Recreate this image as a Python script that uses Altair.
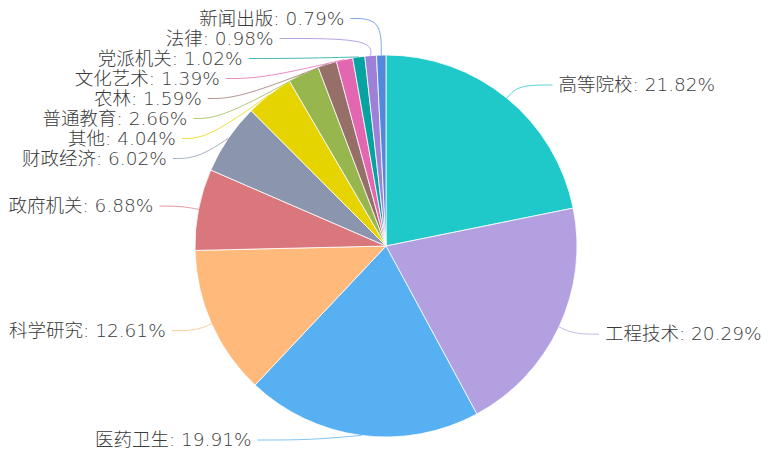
import math
import altair as alt
import pandas as pd

categories = ["高等院校", "工程技术", "医药卫生", "科学研究", "政府机关", "财政经济",
              "其他", "普通教育", "农林", "文化艺术", "党派机关", "法律", "新闻出版"]
values = [21.82, 20.29, 19.91, 12.61, 6.88, 6.02, 4.04, 2.66, 1.59, 1.39, 1.02, 0.98, 0.79]
colors = ["#1fc8c9", "#b3a0e0", "#56b0f2", "#ffb97b", "#d9777c", "#8b96ae",
          "#e5d400", "#98b64e", "#956f68", "#e266b0", "#06a3a0", "#9f80d8", "#5389db"]

# layout (view coordinates)
W, H = 756, 443
CX, CY, R = 378, 238, 191
R1 = 208          # end of first leader segment
RT = 236          # text anchor radius
GAP = 6
LINE_H = 20.0
TOP, BOTTOM = 10.5, 432

total = sum(values)
mids, cum = [], 0.0
for v in values:
    mids.append(2 * math.pi * (cum + v / 2) / total)
    cum += v

side = [1 if math.sin(a) >= 0 else -1 for a in mids]
ys = [CY - R1 * math.cos(a) for a in mids]

# label overlap avoidance per side (isotonic regression with fixed spacing)
for s in (1, -1):
    idx = sorted([i for i in range(len(values)) if side[i] == s], key=lambda i: ys[i])
    n = len(idx)
    z = [ys[i] - LINE_H * k for k, i in enumerate(idx)]
    blocks = []
    for val in z:
        blocks.append([val, 1])
        while len(blocks) > 1 and blocks[-2][0] / blocks[-2][1] > blocks[-1][0] / blocks[-1][1]:
            b = blocks.pop()
            blocks[-1][0] += b[0]
            blocks[-1][1] += b[1]
    zz = []
    for sm, c in blocks:
        zz += [sm / c] * c
    lo, hi = TOP, BOTTOM - LINE_H * (n - 1)
    zz = [min(max(v, lo), hi) for v in zz]
    for k, i in enumerate(idx):
        ys[i] = zz[k] + LINE_H * k

rows_line, rows_text = [], []
for i, (c, v, a) in enumerate(zip(categories, values, mids)):
    d = side[i]
    y = ys[i]
    dy = y - CY
    p0 = (CX + R * math.sin(a), CY - R * math.cos(a))
    if abs(dy) < R1:
        p1x = CX + d * math.sqrt(R1 ** 2 - dy ** 2)
        tx = CX + d * math.sqrt(RT ** 2 - dy ** 2)
    else:
        p1x = p0[0]
        tx = p1x + d * 37
    p2x = tx - d * GAP
    for k, (px, py) in enumerate([p0, (p1x, y), (p2x, y)]):
        rows_line.append({"cat": c, "k": k, "x": px, "y": py})
    rows_text.append({"cat": c, "x": tx, "y": y, "side": d,
                      "label": f"{c}: {v:.2f}%"})

pie_df = pd.DataFrame({"cat": categories, "value": values, "order": list(range(len(values)))})
line_df = pd.DataFrame(rows_line)
text_df = pd.DataFrame(rows_text)

color_scale = alt.Scale(domain=categories, range=colors)
xs = alt.Scale(domain=[0, W], range=[0, W])
ysc = alt.Scale(domain=[0, H], range=[0, H])

pie = alt.Chart(pie_df).mark_arc(outerRadius=R, stroke="#ffffff", strokeWidth=0.8).encode(
    theta=alt.Theta("value:Q", stack=True),
    order=alt.Order("order:Q"),
    color=alt.Color("cat:N", scale=color_scale, legend=None),
    x=alt.value(CX),
    y=alt.value(CY),
)

lines = alt.Chart(line_df).mark_line(strokeWidth=1, opacity=0.75, interpolate="basis").encode(
    x=alt.X("x:Q", scale=xs, axis=None),
    y=alt.Y("y:Q", scale=ysc, axis=None),
    detail="cat:N",
    order="k:Q",
    color=alt.Color("cat:N", scale=color_scale, legend=None),
)

text_common = dict(font="DejaVu Sans, Noto Sans CJK SC", fontSize=18.5, fontWeight=300,
                   color="#3a3a3a", baseline="middle")
text_r = alt.Chart(text_df).transform_filter("datum.side > 0").mark_text(
    align="left", **text_common).encode(
    x=alt.X("x:Q", scale=xs, axis=None),
    y=alt.Y("y:Q", scale=ysc, axis=None),
    text="label:N",
)
text_l = alt.Chart(text_df).transform_filter("datum.side < 0").mark_text(
    align="right", **text_common).encode(
    x=alt.X("x:Q", scale=xs, axis=None),
    y=alt.Y("y:Q", scale=ysc, axis=None),
    text="label:N",
)

chart = alt.layer(pie, lines, text_l, text_r).properties(
    width=W, height=H, padding=0, autosize=alt.AutoSizeParams(type="none")
).configure_view(stroke=None)

chart.save("out.html", embed_options={"renderer": "svg", "actions": False})
